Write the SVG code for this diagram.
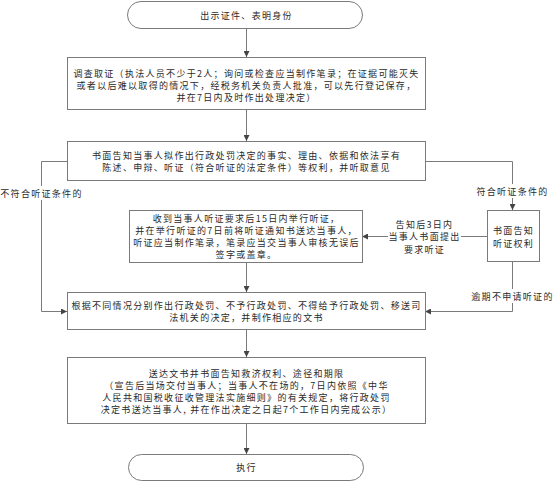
<svg xmlns="http://www.w3.org/2000/svg" width="554" height="481" viewBox="0 0 554 481">
<defs>
<marker id="arr" markerWidth="6" markerHeight="6" refX="6" refY="3" orient="auto" markerUnits="userSpaceOnUse">
<path d="M0,0 L6,3 L0,6 z" fill="#444"/>
</marker>
<style>
.box{fill:#fff;stroke:#7a7a7a;stroke-width:1}
.t{font-family:"Noto Sans CJK SC","Liberation Sans",sans-serif;font-size:9px;letter-spacing:1.3px;fill:#2a2a2a;text-anchor:middle;dominant-baseline:central}
.c{fill:none;stroke:#7a7a7a;stroke-width:1}
.a{marker-end:url(#arr)}
.lb{fill:#fff}
</style>
</defs>
<rect width="554" height="481" fill="#fff"/>
<g id="connectors">
<path class="c a" d="M246.5,28 V57"/>
<path class="c a" d="M246.5,110 V141"/>
<path class="c a" d="M67,161.5 H41.5 V311.5 H67"/>
<path class="c a" d="M425,161.5 H512.5 V210"/>
<path class="c a" d="M487,236.5 H362"/>
<path class="c a" d="M512.5,262 V311.5 H425"/>
<path class="c a" d="M246.5,263 V292"/>
<path class="c a" d="M246.5,330 V357"/>
<path class="c a" d="M246.5,424 V454"/>
<rect class="lb" x="0" y="186" width="83" height="14"/>
<text class="t" x="41.5" y="193">不符合听证条件的</text>
<rect class="lb" x="475" y="184" width="76" height="14"/>
<text class="t" x="512.5" y="191">符合听证条件的</text>
<rect class="lb" x="388" y="217" width="73" height="38"/>
<text class="t" x="424.5" y="224">告知后3日内</text>
<text class="t" x="424.5" y="236.5">当事人书面提出</text>
<text class="t" x="424.5" y="249">要求听证</text>
<rect class="lb" x="470" y="289" width="84" height="14"/>
<text class="t" x="512.5" y="296">逾期不申请听证的</text>
</g>
<g id="start">
<rect class="box" x="127.5" y="1.5" width="235" height="27" rx="13.5" ry="13.5"/>
<text class="t" x="246.5" y="15">出示证件、表明身份</text>
</g>
<g id="investigate">
<rect class="box" x="67.5" y="57.5" width="358" height="52"/>
<text class="t" x="246.5" y="73.5">调查取证（执法人员不少于2人；询问或检查应当制作笔录；在证据可能灭失</text>
<text class="t" x="246.5" y="85.5">或者以后难以取得的情况下，经税务机关负责人批准，可以先行登记保存，</text>
<text class="t" x="246.5" y="97.5">并在7日内及时作出处理决定）</text>
</g>
<g id="notify">
<rect class="box" x="67.5" y="141.5" width="358" height="39"/>
<text class="t" x="246.5" y="155">书面告知当事人拟作出行政处罚决定的事实、理由、依据和依法享有</text>
<text class="t" x="246.5" y="167.5">陈述、申辩、听证（符合听证的法定条件）等权利，并听取意见</text>
</g>
<g id="hearing-right">
<rect class="box" x="487.5" y="210.5" width="52" height="51"/>
<text class="t" x="513.5" y="230">书面告知</text>
<text class="t" x="513.5" y="243">听证权利</text>
</g>
<g id="hearing">
<rect class="box" x="129.5" y="210.5" width="233" height="52"/>
<text class="t" x="246.5" y="218.5">收到当事人听证要求后15日内举行听证，</text>
<text class="t" x="246.5" y="230.5">并在举行听证的7日前将听证通知书送达当事人，</text>
<text class="t" x="246.5" y="242.5">听证应当制作笔录，笔录应当交当事人审核无误后</text>
<text class="t" x="246.5" y="254.5">签字或盖章。</text>
</g>
<g id="decision">
<rect class="box" x="67.5" y="292.5" width="358" height="37"/>
<text class="t" x="246.5" y="305">根据不同情况分别作出行政处罚、不予行政处罚、不得给予行政处罚、移送司</text>
<text class="t" x="246.5" y="317.5">法机关的决定，并制作相应的文书</text>
</g>
<g id="deliver">
<rect class="box" x="67.5" y="357.5" width="358" height="66"/>
<text class="t" x="246.5" y="373.5">送达文书并书面告知救济权利、途径和期限</text>
<text class="t" x="246.5" y="385.5">（宣告后当场交付当事人；当事人不在场的，7日内依照《中华</text>
<text class="t" x="246.5" y="397.5">人民共和国税收征收管理法实施细则》的有关规定，将行政处罚</text>
<text class="t" x="246.5" y="409.5">决定书送达当事人, 并在作出决定之日起7个工作日内完成公示）</text>
</g>
<g id="end">
<rect class="box" x="128.5" y="454.5" width="235" height="26" rx="13" ry="13"/>
<text class="t" x="246.5" y="467.5">执行</text>
</g>
</svg>
